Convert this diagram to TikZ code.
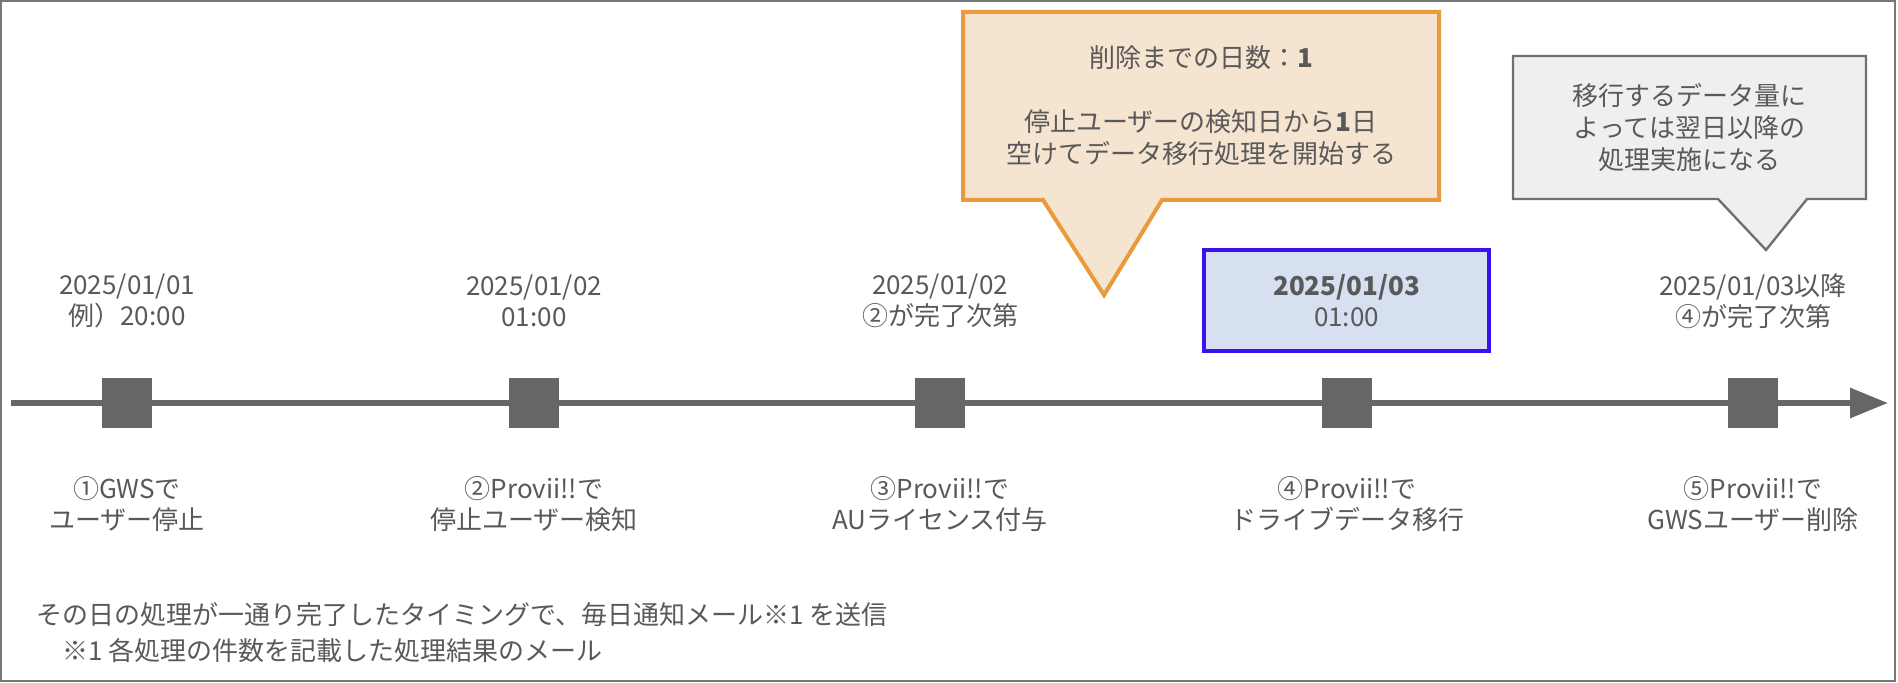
\documentclass[tikz,border=0pt]{standalone}
\usepackage{fontspec}
\setmainfont{Noto Sans CJK JP}
\usetikzlibrary{arrows.meta}

\definecolor{txtgray}{HTML}{595959}
\definecolor{linegray}{HTML}{666666}
\definecolor{framegray}{HTML}{767676}
\definecolor{noteorange}{HTML}{E99B3B}
\definecolor{notefill}{HTML}{F5E4D0}
\definecolor{dayblue}{HTML}{3A12F0}
\definecolor{dayfill}{HTML}{D6E0F0}
\definecolor{hintgray}{HTML}{707070}
\definecolor{hintfill}{HTML}{EFEFEF}

\begin{document}
\begin{tikzpicture}[
  x=0.5pt, y=-0.5pt,
  font=\fontsize{13}{15.7}\selectfont, text=txtgray,
  lbl/.style={align=center, inner sep=0pt},
  milestone/.style={fill=linegray, inner sep=0pt, minimum size=25pt},
  axis/.style={line width=3pt, draw=linegray,
    -{Triangle[length=19pt, width=14.5pt]}},
  orangenote/.style={draw=noteorange, fill=notefill, line width=2pt},
  graynote/.style={draw=hintgray, fill=hintfill, line width=1.2pt},
  daybox/.style={draw=dayblue, fill=dayfill, line width=2pt, align=center,
    minimum width=142.5pt, minimum height=50.5pt, inner sep=0pt},
]
\useasboundingbox (0,0) rectangle (1898,683);
\draw[framegray, line width=1pt] (1,1) rectangle (1895,681);

% timeline
\coordinate (tstart) at (11,403);
\coordinate (tend) at (1888,403);
\draw[axis] (tstart) -- (tend);

\node[milestone] (m1) at (127,403) {};
\node[milestone] (m2) at (534,403) {};
\node[milestone] (m3) at (940,403) {};
\node[milestone] (m4) at (1347,403) {};
\node[milestone] (m5) at (1753,403) {};

% dates
\node[lbl] (d1) at (127,301) {2025/01/01\\例）20:00};
\node[lbl] (d2) at (534,301) {2025/01/02\\01:00};
\node[lbl] (d3) at (940,301) {2025/01/02\\②が完了次第};
\node[daybox] (d4) at (1346.5,300.5) {\textbf{2025/01/03}\\01:00};
\node[lbl] (d5) at (1753,301) {2025/01/03以降\\④が完了次第};

% steps
\node[lbl] (s1) at (127,504) {①GWSで\\ユーザー停止};
\node[lbl] (s2) at (534,504) {②Provii!!で\\停止ユーザー検知};
\node[lbl] (s3) at (940,504) {③Provii!!で\\AUライセンス付与};
\node[lbl] (s4) at (1347,504) {④Provii!!で\\ドライブデータ移行};
\node[lbl] (s5) at (1753,504) {⑤Provii!!で\\GWSユーザー削除};

% callouts
\draw[orangenote] (963,12) -- (1439,12) -- (1439,200) -- (1162,200)
  -- (1104,295) -- (1043,200) -- (963,200) -- cycle;
\node[lbl, font=\fontsize{13}{16}\selectfont] (wait) at (1201,106)
  {削除までの日数：\textbf{1}\\[16pt]停止ユーザーの検知日から\textbf{1}日\\空けてデータ移行処理を開始する};

\draw[graynote] (1513,56) -- (1866,56) -- (1866,199) -- (1807,199)
  -- (1766,250) -- (1718,199) -- (1513,199) -- cycle;
\node[lbl, font=\fontsize{13}{16.2}\selectfont] (later) at (1689.5,127.5)
  {移行するデータ量に\\よっては翌日以降の\\処理実施になる};

% mail note
\node[anchor=west, align=left, inner sep=0pt,
  font=\fontsize{13}{18}\selectfont] (mail) at (36,633)
  {その日の処理が一通り完了したタイミングで、毎日通知メール※1 を送信\\　※1 各処理の件数を記載した処理結果のメール};

\end{tikzpicture}
\end{document}
